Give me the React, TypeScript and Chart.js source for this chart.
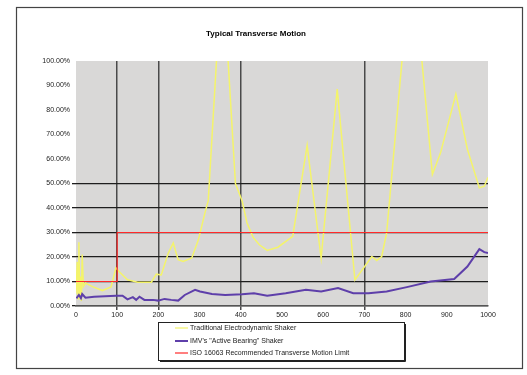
import React, { useEffect, useRef } from "react";
import { Chart, registerables } from "chart.js";

Chart.register(...registerables);

const titleText = "Typical Transverse Motion";
const seriesNames = [
  "Traditional Electrodynamic Shaker",
  "IMV's \"Active Bearing\" Shaker",
  "ISO 16063 Recommended Transverse Motion Limit",
];

const tradX = [0, 3, 5, 7, 9, 11, 13, 15, 18, 23, 40, 64, 85, 97, 105, 125, 150, 183, 195, 207, 224, 236, 248, 260, 281, 297, 313, 321, 355, 387, 403, 415, 430, 445, 464, 490, 526, 561, 595, 634, 677, 718, 730, 742, 754, 815, 865, 885, 922, 950, 979, 991, 1000];
const tradY = [5, 18, 3, 26, 4, 12, 2, 21, 8, 9.4, 7.9, 6.3, 7.8, 15.6, 14, 10.7, 9.7, 9.7, 13, 12.7, 21.6, 25.7, 18.9, 18.2, 19.6, 27, 38, 43, 140, 50, 43, 34, 28, 25, 22.7, 24, 28.4, 65.6, 19.5, 88.5, 10.6, 20.2, 18.6, 20.2, 29.8, 145, 53.7, 62.6, 86.5, 64, 48.2, 48.9, 52.5];

const imvX = [1, 7, 12, 15, 23, 44, 97, 113, 125, 138, 146, 154, 166, 187, 199, 215, 231, 248, 264, 289, 301, 330, 362, 403, 432, 464, 509, 558, 595, 636, 673, 710, 754, 803, 861, 918, 950, 979, 991, 1000];
const imvY = [3.1, 4.5, 3.2, 4.9, 3.4, 3.8, 4.2, 4.2, 2.7, 3.6, 2.5, 3.8, 2.5, 2.5, 2.2, 2.9, 2.5, 2.2, 4.5, 6.6, 5.9, 4.9, 4.5, 4.8, 5.2, 4.2, 5.2, 6.6, 5.9, 7.3, 5.2, 5.2, 5.9, 7.7, 10, 11, 16.1, 23.2, 22, 21.6];

const isoX = [0, 100, 100, 1000];
const isoY = [10, 10, 30, 30];

const yTicks = [0, 10, 20, 30, 40, 50, 60, 70, 80, 90, 100];
const xGridAt = [100, 200, 400, 700];

const colors = ["#F4F46A", "#5E3FAA", "#FF2A2A"];

const toPts = (xs: number[], ys: number[]) => xs.map((x, i) => ({ x, y: ys[i] }));

const FONT = "'Liberation Sans', Arial, sans-serif";

export default function App() {
  const ref = useRef<HTMLCanvasElement | null>(null);
  useEffect(() => {
    const canvas = ref.current!;
    const decor = {
      id: "decor",
      beforeDraw(chart: any) {
        const { ctx, chartArea: a } = chart;
        ctx.save();
        ctx.fillStyle = "#ffffff";
        ctx.fillRect(0, 0, chart.width, chart.height);
        ctx.fillStyle = "#D9D8D7";
        ctx.fillRect(a.left, a.top, a.right - a.left, a.bottom - a.top);
        ctx.restore();
      },
      afterDraw(chart: any) {
        const { ctx } = chart;
        ctx.save();
        // outer border
        ctx.strokeStyle = "#444";
        ctx.lineWidth = 1.2;
        ctx.strokeRect(16.5, 7.5, 506, 361);
        // title
        ctx.fillStyle = "#000";
        ctx.font = `bold 8px ${FONT}`;
        ctx.textAlign = "center";
        ctx.textBaseline = "middle";
        ctx.fillText(titleText, 256, 34);
        // legend box
        const lx = 158, ly = 322, lw = 246, lh = 38;
        ctx.fillStyle = "#ffffff";
        ctx.fillRect(lx, ly, lw, lh);
        ctx.strokeStyle = "#222";
        ctx.lineWidth = 1;
        ctx.strokeRect(lx + 0.5, ly + 0.5, lw, lh);
        ctx.beginPath();
        ctx.moveTo(lx + lw + 1.5, ly + 2);
        ctx.lineTo(lx + lw + 1.5, ly + lh + 1.5);
        ctx.lineTo(lx + 2, ly + lh + 1.5);
        ctx.stroke();
        ctx.font = `7px ${FONT}`;
        ctx.textAlign = "left";
        const rows = [328, 341, 353];
        seriesNames.forEach((name, i) => {
          ctx.strokeStyle = colors[i];
          ctx.lineWidth = i === 1 ? 2 : 1.2;
          ctx.beginPath();
          ctx.moveTo(175, rows[i]);
          ctx.lineTo(188, rows[i]);
          ctx.stroke();
          ctx.fillStyle = "#222";
          ctx.fillText(name, 190, rows[i]);
        });
        ctx.restore();
      },
    };
    const chart = new Chart(canvas, {
      type: "scatter",
      data: {
        datasets: [
          {
            label: seriesNames[0],
            data: toPts(tradX, tradY),
            showLine: true,
            borderColor: colors[0],
            borderWidth: 1.5,
            pointRadius: 0,
            tension: 0,
            order: 2,
          },
          {
            label: seriesNames[1],
            data: toPts(imvX, imvY),
            showLine: true,
            borderColor: colors[1],
            borderWidth: 2,
            pointRadius: 0,
            tension: 0,
            order: 1,
          },
          {
            label: seriesNames[2],
            data: toPts(isoX, isoY),
            showLine: true,
            borderColor: colors[2],
            borderWidth: 1.2,
            pointRadius: 0,
            tension: 0,
            order: 0,
          },
        ],
      },
      options: {
        responsive: false,
        animation: false,
        events: [],
        layout: { padding: { left: 0, top: 61, right: 39, bottom: 55 } },
        plugins: { legend: { display: false }, title: { display: false }, tooltip: { enabled: false } },
        scales: {
          x: {
            type: "linear",
            min: 0,
            max: 1000,
            afterFit: (s: any) => { s.height = 14; },
            ticks: {
              stepSize: 100,
              font: { family: FONT, size: 7 },
              color: "#222",
              padding: 1,
              maxRotation: 0,
              callback: (v: any) => String(v),
            },
            grid: {
              color: (c: any) => (xGridAt.includes(c.tick?.value) ? "#4a4a4a" : "rgba(0,0,0,0)"),
              lineWidth: 1.5,
              tickLength: 4,
            },
            border: { display: true, color: "#555", width: 1.5 },
          },
          y: {
            type: "linear",
            min: 0,
            max: 100,
            afterFit: (s: any) => { s.width = 76; },
            afterBuildTicks: (s: any) => { s.ticks = yTicks.map((v) => ({ value: v })); },
            ticks: {
              font: { family: FONT, size: 7 },
              color: "#222",
              padding: 2,
              callback: (v: any) => Number(v).toFixed(2) + "%",
            },
            grid: {
              color: (c: any) => (c.tick && c.tick.value <= 50 ? "#1e1e1e" : "rgba(0,0,0,0)"),
              lineWidth: 1.3,
              tickLength: 4,
            },
            border: { display: false },
          },
        },
      },
      plugins: [decor],
    } as any);
    return () => chart.destroy();
  }, []);
  return (
    <div style={{ position: "fixed", left: 0, top: 0, width: 527, height: 375, background: "#fff" }}>
      <canvas ref={ref} width={527} height={375} style={{ display: "block" }} />
    </div>
  );
}
